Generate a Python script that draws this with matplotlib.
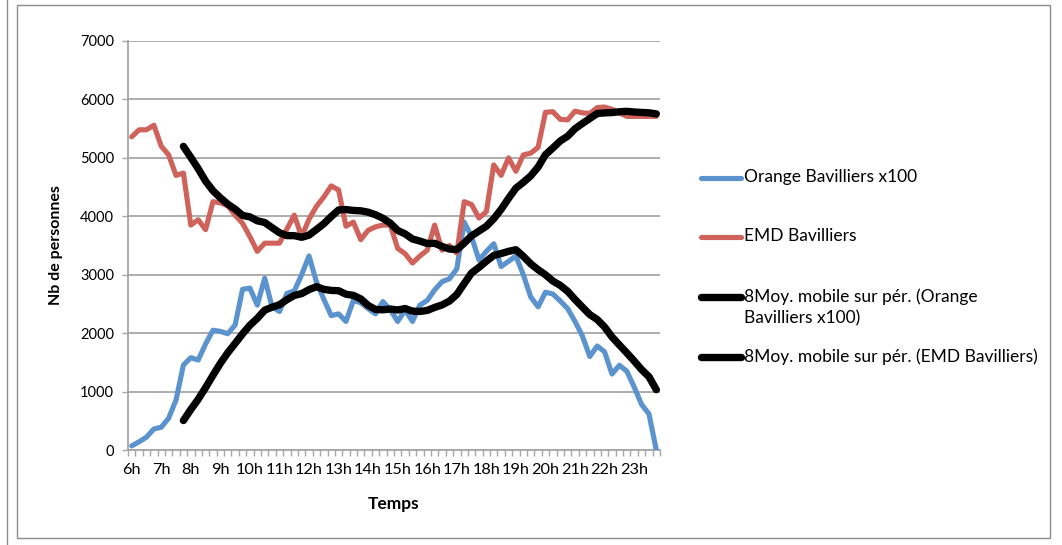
import matplotlib
matplotlib.use('Agg')
import matplotlib.pyplot as plt
from matplotlib.lines import Line2D
from matplotlib.patches import Rectangle
import numpy as np
import pandas as pd

# quarter-hour samples from 6h to 23h45
hour_labels = ['6h', '7h', '8h', '9h', '10h', '11h', '12h', '13h', '14h', '15h',
               '16h', '17h', '18h', '19h', '20h', '21h', '22h', '23h']

orange_x100 = [70, 140, 220, 360, 390, 545, 855, 1455, 1580, 1540, 1815, 2050,
               2030, 1990, 2140, 2750, 2770, 2480, 2940, 2450, 2370, 2680, 2720, 3000,
               3320, 2880, 2580, 2300, 2330, 2200, 2560, 2520, 2420, 2330, 2540, 2400,
               2200, 2400, 2200, 2480, 2560, 2740, 2880, 2930, 3100, 3900, 3650, 3250,
               3400, 3530, 3140, 3230, 3320, 3000, 2620, 2450, 2700, 2670, 2550, 2420,
               2200, 1950, 1600, 1780, 1680, 1300, 1450, 1350, 1080, 780, 620, 0]

emd = [5360, 5480, 5480, 5560, 5200, 5050, 4700, 4740, 3850, 3940, 3770, 4250,
       4230, 4180, 4020, 3880, 3650, 3400, 3540, 3540, 3540, 3780, 4020, 3650,
       3950, 4170, 4330, 4520, 4450, 3830, 3900, 3600, 3760, 3820, 3850, 3850,
       3450, 3360, 3200, 3320, 3420, 3850, 3420, 3500, 3370, 4250, 4200, 3970,
       4080, 4880, 4700, 5000, 4770, 5050, 5080, 5180, 5780, 5790, 5660, 5650,
       5800, 5770, 5760, 5860, 5870, 5830, 5770, 5710, 5710, 5710, 5710, 5710]

period = 8
labels = ['Orange Bavilliers x100', 'EMD Bavilliers',
          '8Moy. mobile sur pér. (Orange\nBavilliers x100)',
          '8Moy. mobile sur pér. (EMD Bavilliers)']

blue = '#5A93CD'
red = '#CF625B'
grid_col = '#A6A6A6'

plt.rcParams['font.family'] = ['Lato', 'DejaVu Sans']

df = pd.DataFrame({'orange': orange_x100, 'emd': emd})
# moving average trendlines (same as the Excel trendline)
df['orange_ma'] = df['orange'].rolling(period).mean()
df['emd_ma'] = df['emd'].rolling(period).mean()
x = np.arange(len(df))

fig = plt.figure(figsize=(10.62, 5.45), dpi=100)
ax = fig.add_axes([128 / 1062, 1 - 450 / 545, 532 / 1062, 409 / 545])

ax.plot(x, df['orange'], color=blue, lw=3.7, solid_joinstyle='round', solid_capstyle='round', zorder=3)
ax.plot(x, df['emd'], color=red, lw=3.7, solid_joinstyle='round', solid_capstyle='round', zorder=3)
ax.plot(x, df['orange_ma'], color='black', lw=5.3, solid_joinstyle='round', solid_capstyle='round', zorder=4)
ax.plot(x, df['emd_ma'], color='black', lw=5.3, solid_joinstyle='round', solid_capstyle='round', zorder=4)

ax.set_xlim(-0.5, len(df) - 0.5)
ax.set_ylim(0, 7000)
ax.set_yticks(range(0, 7001, 1000))
ax.grid(axis='y', color=grid_col, lw=1.3)
ax.set_axisbelow(True)

ax.set_xticks(np.arange(0, len(df), 4))
ax.set_xticklabels(hour_labels)
ax.set_xticks(np.arange(-0.5, len(df), 1), minor=True)
ax.tick_params(axis='x', which='major', length=0, pad=9, labelsize=11.8)
ax.tick_params(axis='x', which='minor', length=4, color=grid_col, width=1)
ax.tick_params(axis='y', length=4, color=grid_col, width=1, labelsize=10.5, pad=6)

for s in ['top', 'right']:
    ax.spines[s].set_visible(False)
for s in ['left', 'bottom']:
    ax.spines[s].set_color(grid_col)
    ax.spines[s].set_linewidth(1.3)

ax.set_xlabel('Temps', fontsize=12.5, fontweight='bold', labelpad=14)
ax.set_ylabel('Nb de personnes', fontsize=11.5, fontweight='bold', labelpad=12)

# legend drawn by hand to keep the Excel spacing
leg_y = [178, 237, 297, 357]
leg_col = [blue, red, 'black', 'black']
leg_lw = [3.7, 3.7, 5.3, 5.3]
for yy, c, lw, lab in zip(leg_y, leg_col, leg_lw, labels):
    fy = 1 - yy / 545
    fig.add_artist(Line2D([701 / 1062, 741 / 1062], [fy, fy], color=c, lw=lw,
                          solid_capstyle='round', transform=fig.transFigure))
    fig.text(744 / 1062, fy + 9 / 545, lab, fontsize=12.5, va='top', ha='left',
             linespacing=1.45)

# chart border
fig.add_artist(Rectangle((17 / 1062, 7 / 545), 1033 / 1062, 533 / 545, fill=False,
                         edgecolor='#8C8C8C', lw=1, transform=fig.transFigure))
fig.add_artist(Line2D([7 / 1062, 7 / 1062], [0, 1], color='#8C8C8C', lw=1,
                      transform=fig.transFigure))

fig.savefig('out.png', dpi=100)
